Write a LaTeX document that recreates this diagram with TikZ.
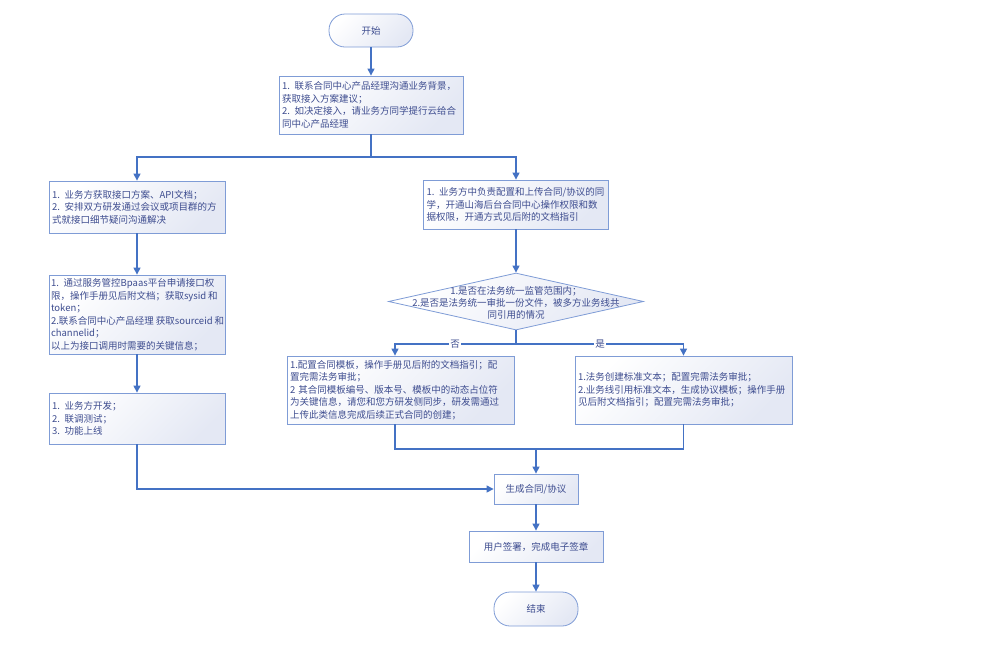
\documentclass[tikz,border=0pt]{standalone}
\usepackage{fontspec}
\setmainfont{Noto Sans CJK SC}
\usetikzlibrary{arrows.meta,shapes.geometric,calc}
\definecolor{ln}{HTML}{4472C4}
\definecolor{bdr}{HTML}{7F9CD6}
\definecolor{txt}{HTML}{3D4C8F}
\definecolor{shd}{HTML}{E4E8F4}
\begin{document}
\begin{tikzpicture}[x=1pt,y=-1pt,
  every node/.style={font=\fontsize{9.5}{12.5}\selectfont, text=txt},
  stepbox/.style={draw=bdr, line width=0.8pt, top color=white, bottom color=shd, shading angle=45, align=left, inner xsep=3pt, inner ysep=0pt},
  term/.style={stepbox, rounded corners=16pt, align=center},
  flow/.style={draw=ln, line width=1.1pt, -{Triangle[width=7pt,length=7pt]}},
  conn/.style={draw=ln, line width=1.1pt},
  lbl/.style={fill=white, inner sep=1pt}]
\useasboundingbox (0,0) rectangle (996,649);

\node[term, minimum width=84pt, minimum height=33pt] (st) at (371,30.5) {开始};
\node[stepbox, text width=178pt, minimum height=58pt] (b1) at (371,105) {1. 联系合同中心产品经理沟通业务背景，\\获取接入方案建议；\\2. 如决定接入，请业务方同学提行云给合\\同中心产品经理};
\node[stepbox, text width=170pt, minimum height=52pt] (L1) at (137,207) {1. 业务方获取接口方案、API文档；\\2. 安排双方研发通过会议或项目群的方\\式就接口细节疑问沟通解决};
\node[stepbox, text width=172pt, inner xsep=2pt, minimum height=79pt] (L2) at (137,314.5) {\mbox{1. 通过服务管控Bpaas平台申请接口权}\\\mbox{限，操作手册见后附文档；获取sysid\hspace{0.2em}和}\\token；\\\mbox{2.联系合同中心产品经理\hspace{0.2em}获取sourceid\hspace{0.2em}和}\\channelid；\\\mbox{以上为接口调用时需要的关键信息；}};
\node[stepbox, text width=170pt, minimum height=51pt] (L3) at (137,418.5) {1. 业务方开发；\\2. 联调测试；\\3. 功能上线};
\node[stepbox, text width=179pt, minimum height=49pt] (R1) at (516,204.5) {1. 业务方中负责配置和上传合同/协议的同\\学，开通山海后台合同中心操作权限和数\\据权限，开通方式见后附的文档指引};
\node[draw=bdr, line width=0.8pt, diamond, top color=white, bottom color=shd, shading angle=45, minimum width=255pt, minimum height=57pt, inner sep=0pt] (d) at (516,301.5) {};
\node[align=center, font=\fontsize{9.5}{12}\selectfont] (dt) at (516,302.5) {1.是否在法务统一监管范围内；\\2.是否是法务统一审批一份文件，被多方业务线共\\同引用的情况};
\node[stepbox, text width=221pt, minimum height=68pt] (M) at (400.5,390) {1.配置合同模板，操作手册见后附的文档指引；配\\置完需法务审批；\\2 其合同模板编号、版本号、模板中的动态占位符\\为关键信息，请您和您方研发侧同步，研发需通过\\上传此类信息完成后续正式合同的创建；};
\node[stepbox, text width=211pt, minimum height=68pt] (P) at (683.5,390) {1.法务创建标准文本；配置完需法务审批；\\2.业务线引用标准文本，生成协议模板；操作手册\\见后附文档指引；配置完需法务审批；};
\node[stepbox, align=center, minimum width=84pt, minimum height=30pt] (G) at (536,489) {生成合同/协议};
\node[stepbox, align=center, minimum width=134pt, minimum height=31pt] (U) at (536,546.5) {用户签署，完成电子签章};
\node[term, minimum width=84pt, minimum height=34pt] (E) at (536,609) {结束};

\coordinate (sp) at (371,157);
\coordinate (ds) at (516,344);
\coordinate (mt) at (395,0);
\coordinate (mj) at (536,449);

\draw[flow] (st) -- (b1);
\draw[conn] (b1.south) -- (sp);
\draw[flow] (sp) -| (L1.north);
\draw[flow] (sp) -| (R1.north);
\draw[flow] (L1.south) -- (L1.south |- L2.north);
\draw[flow] (L2.south) -- (L2.south |- L3.north);
\draw[flow] (L3.south) |- (G.west);
\draw[flow] (R1.south) -- (d.north);
\draw[conn] (d.south) -- (ds);
\draw[flow] (ds) -| (mt |- M.north);
\draw[flow] (ds) -| (P.north);
\node[lbl] (no) at (455,344) {否};
\node[lbl] (yes) at (600,344) {是};
\draw[conn] (mt |- M.south) |- (P.south |- mj) -- (P.south);
\draw[flow] (mj) -- (G.north);
\draw[flow] (G) -- (U);
\draw[flow] (U) -- (E);
\end{tikzpicture}
\end{document}
